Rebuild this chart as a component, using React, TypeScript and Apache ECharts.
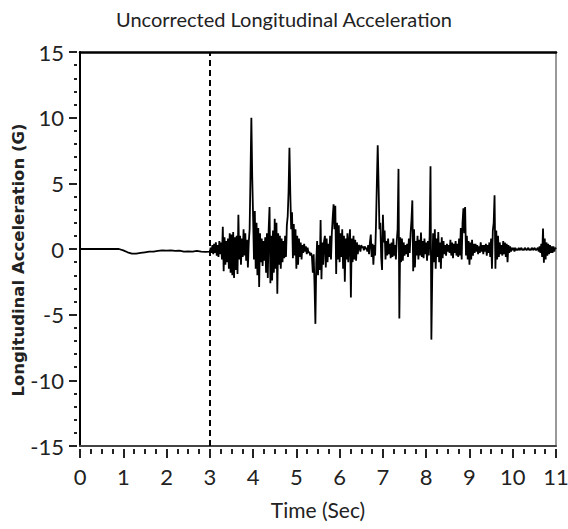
import React, { useEffect, useRef } from "react";
import * as echarts from "echarts";

const TITLE = "Uncorrected Longitudinal Acceleration";
const X_NAME = "Time (Sec)";
const Y_NAME = "Longitudinal Acceleration (G)";
const IMPACT_TIME = 3;

// 0.0 – 2.9 s, sampled every 0.1 s
const PRE_STEP = 0.1;
const preImpact = [
  0, 0, 0, 0, 0, 0, 0, 0, 0, 0,
  -0.1, -0.25, -0.35, -0.35, -0.3, -0.25, -0.2, -0.2, -0.15, -0.1,
  -0.12, -0.1, -0.15, -0.12, -0.2, -0.18, -0.2, -0.15, -0.2, -0.22,
];

// from 3.0 s on, sampled every 0.02 s
const STEP = 0.02;
const sec3 = [
  -0.2, 0.1, -0.3, 0.3, -0.4, 0.4, -0.3, 0.5, -0.5, 0.3,
  -0.6, 0.6, -0.4, 0.5, -0.8, 1.7, -1.7, 0.9, -1.2, 0.6,
  -1.0, 0.8, -1.5, 1.2, -1.8, 1.1, -2.0, 1.3, -2.2, 0.9,
  -1.6, 1.0, -1.9, 2.6, -0.8, 1.0, -1.2, 0.8, -0.6, 1.5,
  -0.5, 1.2, -0.9, 0.7, -1.4, 0.5, 1.5, 5.6, 10.0, 5.5,
];
const sec4 = [
  2.5, -0.8, 2.9, -1.5, 2.0, -2.0, 1.6, -2.9, 1.2, -1.0,
  0.8, -1.3, 0.6, -0.9, 0.9, -1.8, 1.2, -2.2, 1.5, 3.2,
  -2.6, 1.0, -2.4, 1.4, -1.8, 2.3, -1.5, 2.0, -3.4, 1.2,
  -1.2, 1.0, -1.5, 0.8, -1.0, 0.6, -0.7, 1.0, -0.6, 1.8,
  2.5, 4.4, 7.7, 4.2, 1.5, 2.8, -0.7, 1.9, -0.5, 1.5,
];
const sec5 = [
  -1.5, 1.0, -1.2, 0.8, -0.6, 0.5, -0.8, 0.3, -0.3, 0.4,
  -0.2, 0.2, -0.4, 0.1, -0.3, -0.2, -0.5, -0.3, -0.6, -1.8,
  -0.4, -2.8, -5.7, -1.0, 0.6, -2.0, 0.3, -1.6, 2.2, -2.3,
  0.5, -1.2, 0.6, 1.0, -1.4, 0.8, -1.0, 0.4, -0.6, 1.0,
  -0.8, 1.2, 2.4, 3.4, 1.5, 3.3, -1.9, 2.0, -0.8, 1.8,
];
const sec6 = [
  -1.0, 1.2, -0.6, 1.5, -1.5, 1.0, -2.5, 0.8, -0.8, 1.2,
  -1.0, 0.6, 1.5, -3.7, 0.8, -1.0, 1.0, -0.8, 0.7, -0.9,
  0.5, -0.4, 0.3, 0.2, -0.2, 0.3, 0.1, 0.2, -0.1, 0.2,
  0.0, 0.1, -0.2, 0.3, -0.4, 0.5, 1.1, -0.6, 0.4, -1.2,
  0.3, -0.5, 1.8, 5.0, 7.9, 4.9, 1.5, 2.0, -0.6, -1.6,
];
const sec7 = [
  2.6, 0.5, 1.4, -0.8, 0.6, -0.5, 0.8, -0.4, 0.4, -0.7,
  0.5, -0.6, 0.8, -0.5, 0.3, -0.8, 0.6, 1.5, 6.1, -5.3,
  0.9, -1.0, 0.8, -0.9, 0.5, -0.5, 0.3, -0.4, 0.4, -0.6,
  0.8, -0.3, 1.2, 2.2, 3.7, -1.7, 1.5, -1.4, 0.6, -0.5,
  1.0, -0.8, 0.7, -0.5, 1.25, -0.6, 0.6, -0.7, 0.8, -0.4,
];
const sec8 = [
  0.5, -0.9, 0.6, -0.5, 1.0, 6.3, -6.9, -2.0, 1.2, -1.0,
  1.5, -1.5, 0.8, -0.6, 1.3, -1.0, 0.5, -1.5, 0.9, -0.7,
  0.6, -0.4, 0.3, -0.5, 0.4, -0.2, 0.3, -0.3, 0.7, -0.5,
  0.5, -0.7, 0.4, -0.3, 0.6, -0.5, 0.4, -0.6, 0.8, -0.5,
  1.6, -0.8, 2.0, 3.1, 1.2, 3.2, -0.5, 1.0, -0.8, 0.6,
];
const sec9 = [
  -1.2, 0.5, -0.8, 0.7, -0.5, 0.4, -0.3, 0.4, -0.2, 0.3,
  -0.4, 0.2, -0.3, 0.5, -0.2, 0.3, -0.4, 0.3, -0.2, 0.4,
  -0.5, 0.3, -0.3, 0.5, -0.6, 0.8, -1.5, 1.4, 2.0, 4.1,
  -1.5, 1.4, -0.8, 1.0, -0.6, 0.5, -0.4, 0.3, -0.5, 0.6,
  -0.4, 0.5, -0.6, 0.4, -1.0, 0.3, -0.3, 0.2, -0.2, 0.1,
];
const sec10 = [
  -0.1, 0.1, -0.2, 0.1, -0.1, 0.0, -0.1, 0.1, -0.1, 0.0,
  0.1, -0.1, 0.0, -0.1, 0.1, 0.0, -0.1, 0.0, 0.1, -0.1,
  0.0, -0.1, 0.1, 0.0, -0.1, 0.1, 0.0, -0.1, 0.0, 0.1,
  -0.2, 0.2, -0.3, 0.4, -0.6, 1.55, -1.05, 0.8, -0.8, 0.5,
  -0.5, 0.4, -0.4, 0.3, -0.3, 0.2, -0.3, 0.2, -0.2, 0.1,
  0.0,
];

const X_TICKS = { min: 0, max: 11, interval: 1 };
const Y_TICKS = { min: -15, max: 15, interval: 5 };

const FONT = "Lato, 'Noto Sans', sans-serif";
const NAME_FONT = "'DejaVu Sans', 'Noto Sans', sans-serif";

function buildData(): [number, number][] {
  const out: [number, number][] = [];
  preImpact.forEach((v, i) => out.push([+(i * PRE_STEP).toFixed(3), v]));
  const segs: [number, number[]][] = [
    [3, sec3], [4, sec4], [5, sec5], [6, sec6], [7, sec7], [8, sec8], [9, sec9], [10, sec10],
  ];
  segs.forEach(([start, arr]) =>
    arr.forEach((v, i) => out.push([+(start + i * STEP).toFixed(3), v]))
  );
  return out;
}

export default function App() {
  const ref = useRef<HTMLDivElement>(null);
  useEffect(() => {
    if (!ref.current) return;
    const chart = echarts.init(ref.current, null, { renderer: "svg" });
    const textColor = "#222";
    const lineOnlyX = (position: string, color: string, width: number) => ({
      type: "value",
      position,
      offset: 0,
      min: X_TICKS.min,
      max: X_TICKS.max,
      axisLine: { show: true, onZero: false, lineStyle: { color, width } },
      axisTick: { show: false },
      axisLabel: { show: false },
      splitLine: { show: false },
    });
    const lineOnlyY = (position: string, color: string, width: number) => ({
      type: "value",
      position,
      offset: 0,
      min: Y_TICKS.min,
      max: Y_TICKS.max,
      axisLine: { show: true, onZero: false, lineStyle: { color, width } },
      axisTick: { show: false },
      axisLabel: { show: false },
      splitLine: { show: false },
    });
    chart.setOption({
      animation: false,
      backgroundColor: "#fff",
      title: {
        text: TITLE,
        left: "center",
        top: 4,
        textStyle: { fontFamily: FONT, fontSize: 20, fontWeight: "normal", color: textColor },
      },
      graphic: [
        {
          type: "text",
          x: 18,
          y: 260,
          rotation: Math.PI / 2,
          style: {
            text: Y_NAME,
            fontFamily: NAME_FONT,
            fontSize: 16.5,
            fontWeight: "bold",
            fill: textColor,
            align: "center",
            verticalAlign: "middle",
          },
        },
      ],
      grid: { left: 80, right: 12, top: 52, bottom: 83, containLabel: false, outerBoundsMode: "none" },
      xAxis: [
        {
          type: "value",
          position: "bottom",
          offset: 3,
          min: X_TICKS.min,
          max: X_TICKS.max,
          interval: X_TICKS.interval,
          name: X_NAME,
          nameLocation: "middle",
          nameGap: 50,
          nameTextStyle: { fontFamily: FONT, fontSize: 21, color: textColor },
          axisLine: { show: false, onZero: false },
          axisTick: { show: true, inside: false, length: 9, lineStyle: { color: "#222", width: 2 } },
          minorTick: { show: true, splitNumber: 4, length: 5, lineStyle: { color: "#222", width: 2 } },
          axisLabel: { fontFamily: FONT, fontSize: 22, color: textColor, margin: 16 },
          splitLine: { show: false },
          minorSplitLine: { show: false },
        },
        lineOnlyX("bottom", "#444", 2),
        lineOnlyX("top", "#000", 2.5),
      ],
      yAxis: [
        {
          type: "value",
          position: "left",
          offset: 3,
          min: Y_TICKS.min,
          max: Y_TICKS.max,
          interval: Y_TICKS.interval,
          axisLine: { show: false, onZero: false },
          axisTick: { show: true, inside: false, length: 8, lineStyle: { color: "#222", width: 2 } },
          minorTick: { show: true, splitNumber: 5, length: 3, lineStyle: { color: "#222", width: 2 } },
          axisLabel: { fontFamily: FONT, fontSize: 22, color: textColor, margin: 13 },
          splitLine: { show: false },
          minorSplitLine: { show: false },
        },
        lineOnlyY("left", "#000", 2),
        lineOnlyY("right", "#777", 1.5),
      ],
      series: [
        {
          type: "line",
          xAxisIndex: 0,
          yAxisIndex: 0,
          data: buildData(),
          showSymbol: false,
          symbol: "none",
          lineStyle: { color: "#000", width: 1.8 },
          markLine: {
            silent: true,
            symbol: "none",
            label: { show: false },
            lineStyle: { color: "#000", type: [6, 4], width: 2 },
            data: [{ xAxis: IMPACT_TIME }],
          },
        },
      ],
    });
    return () => chart.dispose();
  }, []);
  return (
    <div
      ref={ref}
      style={{ position: "fixed", left: 0, top: 0, width: 568, height: 529, background: "#fff" }}
    />
  );
}
